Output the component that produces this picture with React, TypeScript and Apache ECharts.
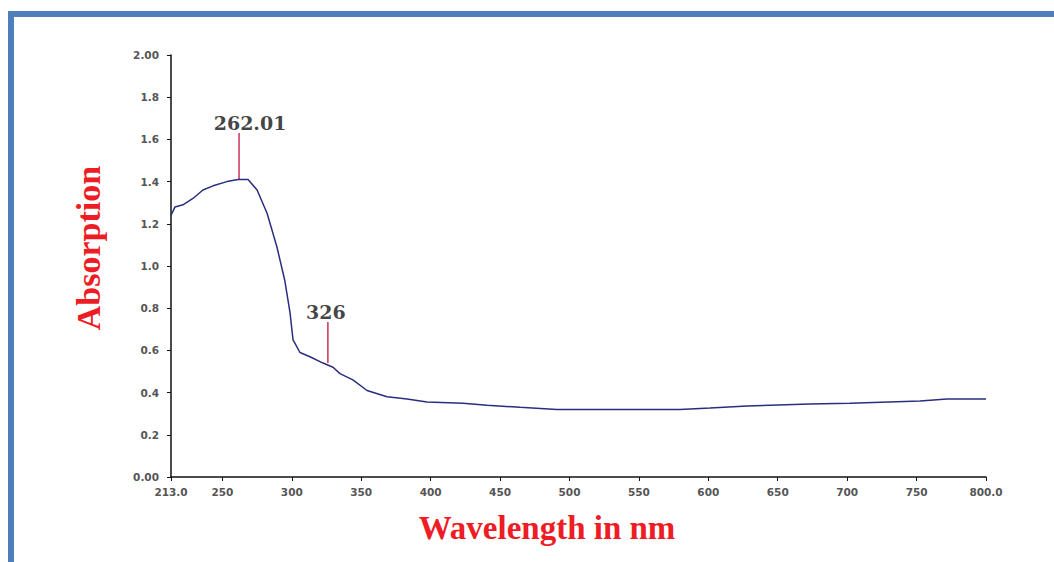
import React, { useEffect, useRef } from "react";
import * as echarts from "echarts";

// Spectrum data
const wavelengths = [213, 215.9, 221.6, 228.8, 236, 243.3, 253.3, 261.3, 268.5, 275, 282.2, 289.3, 295, 298.7, 300.9, 305.9, 313.1, 322.5, 329.7, 334.7, 344, 354.2, 368.6, 383, 397.4, 423.3, 440.6, 464.4, 491, 540, 579.6, 601.2, 627.9, 673.2, 702, 752.5, 771.9, 800];
const absorbance = [1.24, 1.28, 1.29, 1.32, 1.36, 1.38, 1.40, 1.41, 1.41, 1.36, 1.25, 1.09, 0.93, 0.78, 0.65, 0.59, 0.57, 0.54, 0.52, 0.49, 0.46, 0.41, 0.38, 0.37, 0.355, 0.35, 0.34, 0.33, 0.32, 0.32, 0.32, 0.327, 0.336, 0.346, 0.35, 0.36, 0.37, 0.37];

// Peak annotations
const peakWavelengths = [262.01, 326];
const peakAbsorbance = [1.41, 0.54];
const peakMarkerTop = [1.63, 0.735];
const peakLabels = ["262.01", "326"];

// Axis ticks
const xTickValues = [213, 250, 300, 350, 400, 450, 500, 550, 600, 650, 700, 750, 800];
const xMin = 213;
const xMax = 800;
const yMin = 0;
const yMax = 2;
const yInterval = 0.2;

export default function App() {
  const ref = useRef<HTMLDivElement>(null);

  useEffect(() => {
    if (!ref.current) return;
    const chart = echarts.init(ref.current, null, { renderer: "svg" });

    const spectrum = wavelengths.map((w, i) => [w, absorbance[i]]);
    const peakLineSeries = peakWavelengths.map((w, i) => ({
      type: "line",
      silent: true,
      symbol: "none",
      lineStyle: { color: "#c8325a", width: 1.5 },
      data: [
        [w, peakAbsorbance[i]],
        [w, peakMarkerTop[i]],
      ],
      z: 3,
    }));
    const peakLabelSeries = {
      type: "scatter",
      silent: true,
      symbol: "circle",
      symbolSize: 1,
      itemStyle: { color: "rgba(0,0,0,0)" },
      data: peakWavelengths.map((w, i) => ({
        value: [w, peakMarkerTop[i]],
        label: {
          show: true,
          position: "top",
          distance: 0,
          offset: [i === 0 ? 11 : -2, 0],
          formatter: peakLabels[i],
          fontFamily: "DejaVu Serif",
          fontWeight: "bold",
          fontSize: 19,
          color: "#111",
        },
      })),
      z: 5,
    };

    chart.setOption({
      animation: false,
      backgroundColor: "#ffffff",
      grid: { left: 171, right: 68, top: 55, bottom: 85, containLabel: false },
      xAxis: {
        type: "value",
        min: xMin,
        max: xMax,
        axisLine: { show: true, lineStyle: { color: "#111", width: 1.5 } },
        axisTick: {
          show: true,
          length: 4,
          customValues: xTickValues,
          lineStyle: { color: "#111" },
        },
        axisLabel: {
          customValues: xTickValues,
          margin: 9,
          fontFamily: "DejaVu Sans",
          fontWeight: "bold",
          fontSize: 10.5,
          color: "#555",
          formatter: (v: number) => (v === xMin || v === xMax ? v.toFixed(1) : String(v)),
        },
        splitLine: { show: false },
      },
      yAxis: {
        type: "value",
        min: yMin,
        max: yMax,
        interval: yInterval,
        axisLine: { show: true, lineStyle: { color: "#111", width: 1.5 } },
        axisTick: { show: true, length: 4, lineStyle: { color: "#111" } },
        axisLabel: {
          margin: 12,
          fontFamily: "DejaVu Sans",
          fontWeight: "bold",
          fontSize: 10.5,
          color: "#555",
          formatter: (v: number) =>
            Math.abs(v - yMin) < 1e-9 || Math.abs(v - yMax) < 1e-9 ? v.toFixed(2) : v.toFixed(1),
        },
        splitLine: { show: false },
      },
      series: [
        {
          type: "line",
          silent: true,
          symbol: "none",
          smooth: false,
          lineStyle: { color: "#2a2e7e", width: 1.5 },
          data: spectrum,
          z: 4,
        },
        ...peakLineSeries,
        peakLabelSeries,
      ],
      graphic: [
        { type: "rect", shape: { x: 8, y: 11, width: 1046, height: 6 }, style: { fill: "#4f7fbb" } },
        { type: "rect", shape: { x: 8, y: 11, width: 6, height: 551 }, style: { fill: "#4f7fbb" } },
        {
          type: "text",
          x: 88,
          y: 248,
          rotation: Math.PI / 2,
          style: {
            text: "Absorption",
            font: 'bold 34px "Liberation Serif"',
            fill: "#ee1c25",
            align: "center",
            verticalAlign: "middle",
          },
        },
        {
          type: "text",
          x: 547,
          y: 528,
          style: {
            text: "Wavelength in nm",
            font: 'bold 33px "Liberation Serif"',
            fill: "#ee1c25",
            align: "center",
            verticalAlign: "middle",
          },
        },
      ],
    });

    return () => chart.dispose();
  }, []);

  return (
    <div
      ref={ref}
      style={{ position: "fixed", left: 0, top: 0, width: 1054, height: 562, background: "#fff" }}
    />
  );
}
